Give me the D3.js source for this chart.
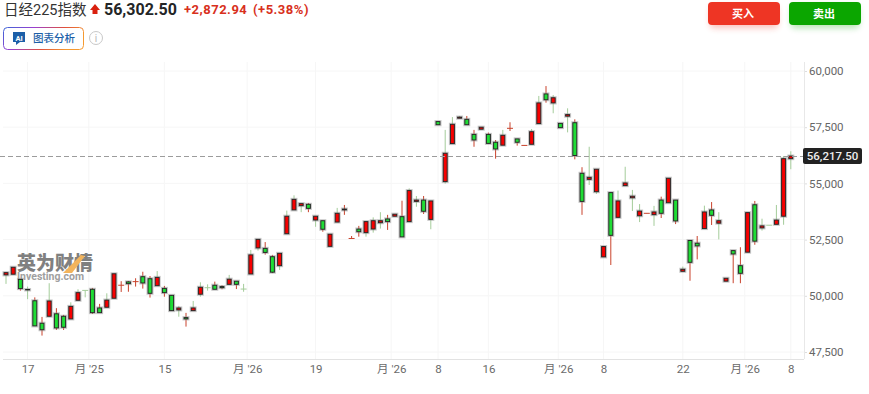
<!DOCTYPE html>
<html>
<head>
<meta charset="utf-8">
<script src="https://cdn.jsdelivr.net/npm/d3@7"></script>
<style>
  html, body { margin: 0; padding: 0; background: #fff; overflow: hidden; }
  svg { display: block; font-family: Roboto, "Noto Sans CJK SC", sans-serif; }
  text { font-family: Roboto, "Noto Sans CJK SC", sans-serif; }
</style>
</head>
<body>
<div id="chart"></div>
<script>
const opens = [
  50930,50960,50730,50260,49780,48780,49090,49200,49090,48970,
  49800,50230,50290,49460,49490,49890,50480,50620,50640,50850,
  50760,50450,50330,50020,49370,49030,49340,50070,50350,50470,
  50410,50510,50650,50290,50970,52130,52110,51740,51340,52760,
  53820,54010,54070,53370,53340,52200,53280,53860,52560,52970,
  52810,52970,53250,53420,53540,53520,53300,54200,54260,53400,
  57750,55080,56770,57900,57850,57180,57410,57180,56830,56700,
  57460,56980,56700,56740,57660,58980,58580,57670,57990,57700,
  55450,55180,54630,51730,54590,53490,54900,54360,53560,53680,
  53610,54260,54140,54260,51090,52460,52340,52990,53820,53230,
  50650,52010,51340,51940,54050,53020,53130,53180,53540,56100
];
const closes = [
  51030,51270,50320,50280,48660,48490,49770,48570,48600,49530,
  50140,50240,49250,49250,49810,50980,50470,50540,50630,50570,
  50110,50820,50140,49340,49460,48970,49460,50380,50360,50290,
  50360,50740,50510,50300,51820,52510,51930,51050,51890,53540,
  54290,54100,53890,53540,52960,52740,53670,53820,52550,52850,
  53300,53340,53340,53300,53630,52620,54680,54260,53760,54220,
  57610,56340,57630,57950,57610,56930,57500,56780,56530,57140,
  57450,56830,56690,57300,58580,58720,58810,57480,58060,56240,
  54200,55270,55630,52190,52690,54220,55020,54430,53770,53670,
  53730,53670,55230,53330,51180,51490,52220,53730,53580,53340,
  50780,51860,51000,53700,52430,53110,53140,53370,56100,56217.5
];
const highs = [
  51030,51270,50730,50410,49930,49060,50560,49450,49150,49710,
  50290,50250,50350,49640,50110,50980,50650,50660,50780,51070,
  50880,51100,50440,50020,49550,49240,49770,50600,50510,50630,
  50470,50930,50650,50530,52040,52510,52390,51820,51890,53790,
  54470,54100,54130,53540,53340,52740,53910,54040,52660,53110,
  53300,53490,53720,53600,53630,54230,54780,54440,54440,54220,
  57750,57380,57950,58000,58000,57380,57500,57260,56930,57380,
  57720,56980,56700,57420,58890,59330,58930,57670,58340,57850,
  55720,56630,55630,52190,54590,54680,55740,54710,54080,53680,
  54000,54410,55230,54260,51300,52460,52660,54010,54170,53720,
  50780,52010,52160,53700,54220,53430,53140,54040,56220,56430
];
const lows = [
  50530,50960,50230,49850,48660,48230,49090,48480,48480,48970,
  49800,49930,49190,49250,49490,49890,50170,50180,50410,50320,
  49920,50450,49960,49340,49070,48630,49340,49960,50230,50290,
  50290,50510,50300,50180,50970,52010,51830,51010,51150,52760,
  53820,53720,53720,53070,52850,52200,53280,53600,52550,52630,
  52630,52810,52990,52930,53540,52620,53300,53960,53640,52960,
  57610,54990,56770,57900,57610,56630,57410,56780,56100,56700,
  57330,56680,56690,56740,57660,58590,58120,57480,57270,56070,
  53600,54930,54530,51730,51370,53490,54900,53770,53280,53670,
  53110,53460,54140,53190,51090,50670,51620,52990,53150,52510,
  50650,50560,50560,51940,52270,52900,53130,53180,53160,55630
];
// slots on the candle index where the time labels sit
const xTickSlots = [3, 11.5, 22, 33.5, 43, 53.5, 60, 67, 76.7, 83, 94, 102.6, 109];
const xTickLabels = ["17", "月 '25", "15", "月 '26", "19", "月 '26", "8", "16", "月 '26", "8", "22", "月 '26", "8"];
const yTicks = [47500, 50000, 52500, 55000, 57500, 60000];
const lastPrice = 56217.5;

const width = 869, height = 394;
const axisX = 804, axisY = 359;

const svg = d3.select("#chart").append("svg")
  .attr("width", width).attr("height", height);

const defs = svg.append("defs");
const grad = defs.append("linearGradient").attr("id", "aiBorder")
  .attr("x1", "0%").attr("y1", "0%").attr("x2", "100%").attr("y2", "30%");
grad.append("stop").attr("offset", "0%").attr("stop-color", "#3a66d8");
grad.append("stop").attr("offset", "35%").attr("stop-color", "#9a3fd0");
grad.append("stop").attr("offset", "70%").attr("stop-color", "#e0503c");
grad.append("stop").attr("offset", "100%").attr("stop-color", "#f59a30");

const x = d3.scaleLinear().domain([0, opens.length - 1]).range([6, 790.8]);
const y = d3.scaleLinear().domain([47500, 60000]).range([352, 71]);

// grid
svg.append("g").selectAll("line").data(yTicks).enter().append("line")
  .attr("x1", 3).attr("x2", axisX)
  .attr("y1", d => y(d)).attr("y2", d => y(d))
  .attr("stroke", "#f6f6f6");
svg.append("g").selectAll("line").data(xTickSlots).enter().append("line")
  .attr("x1", d => x(d)).attr("x2", d => x(d))
  .attr("y1", 62).attr("y2", axisY)
  .attr("stroke", "#f6f6f6");

// watermark
const mark = svg.append("g");
mark.append("text").attr("x", 17).attr("y", 270)
  .attr("font-size", 19).attr("font-weight", 900).attr("fill", "#808080")
  .text("英为财情");
mark.append("path").attr("d", "M63 273 L81 255 L85 256 L72 273 Z").attr("fill", "#f2b45c");
mark.append("text").attr("x", 17).attr("y", 280)
  .attr("font-size", 10.5).attr("font-weight", 700).attr("fill", "#a0a0a0")
  .text("Investing.com");

// axes
const xAxis = svg.append("g")
  .attr("transform", `translate(0,${axisY})`)
  .call(d3.axisBottom(x).tickValues(xTickSlots).tickSize(0).tickPadding(6)
    .tickFormat((d, i) => xTickLabels[i]));
xAxis.select(".domain").remove();
xAxis.selectAll("text").attr("font-size", 11.5).attr("fill", "#6a6a6a");
svg.append("line").attr("x1", 3).attr("x2", axisX).attr("y1", axisY + 0.5).attr("y2", axisY + 0.5)
  .attr("stroke", "#e2e2e2");

const yAxis = svg.append("g")
  .attr("transform", `translate(${axisX},0)`)
  .call(d3.axisRight(y).tickValues(yTicks).tickSize(3).tickPadding(2).tickFormat(d3.format(",")));
yAxis.select(".domain").remove();
yAxis.selectAll("line").attr("stroke", "#dddddd");
yAxis.selectAll("text").attr("font-size", 11.5).attr("fill", "#666");
svg.append("line").attr("x1", axisX + 0.5).attr("x2", axisX + 0.5).attr("y1", 62).attr("y2", axisY)
  .attr("stroke", "#e8e8e8");

// candles: red is up here, wick takes the opposite colour
const idx = d3.range(opens.length);
const isUp = i => closes[i] >= opens[i];
const isFlat = i => Math.abs(closes[i] - opens[i]) < 15;
const wickColor = i => isUp(i) ? "#a4cc9a" : "#c9432c";
const bodyW = 4;

const candles = svg.append("g");
candles.selectAll(".wick").data(idx).enter().append("line")
  .attr("class", "wick")
  .attr("x1", i => x(i)).attr("x2", i => x(i))
  .attr("y1", i => y(highs[i])).attr("y2", i => y(lows[i]))
  .attr("stroke", wickColor);
candles.selectAll(".tick-flat").data(idx.filter(isFlat)).enter().append("line")
  .attr("class", "tick-flat")
  .attr("x1", i => x(i) - 3).attr("x2", i => x(i) + 3)
  .attr("y1", i => y(closes[i])).attr("y2", i => y(closes[i]))
  .attr("stroke", wickColor);
const solid = idx.filter(i => !isFlat(i));
candles.selectAll(".halo").data(solid).enter().append("rect")
  .attr("class", "halo")
  .attr("x", i => x(i) - bodyW / 2 - 1)
  .attr("width", bodyW + 2)
  .attr("y", i => y(Math.max(opens[i], closes[i])) - 1)
  .attr("height", i => Math.abs(y(opens[i]) - y(closes[i])) + 2)
  .attr("fill", "none").attr("stroke", "#999").attr("stroke-opacity", 0.55);
candles.selectAll(".body").data(solid).enter().append("rect")
  .attr("class", "body")
  .attr("x", i => x(i) - bodyW / 2)
  .attr("width", bodyW)
  .attr("y", i => y(Math.max(opens[i], closes[i])))
  .attr("height", i => Math.abs(y(opens[i]) - y(closes[i])))
  .attr("fill", i => isUp(i) ? "#f60000" : "#1fdc35")
  .attr("stroke", "#262626");

// last price
const lastY = Math.round(y(lastPrice)) + 0.5;
svg.append("line").attr("x1", 0).attr("x2", axisX)
  .attr("y1", lastY).attr("y2", lastY)
  .attr("stroke", "#9c9c9c").attr("stroke-dasharray", "5,3");
svg.append("rect").attr("x", 803).attr("y", y(lastPrice) - 8).attr("width", 59).attr("height", 16)
  .attr("rx", 2).attr("fill", "#222");
svg.append("text").attr("x", 832.5).attr("y", y(lastPrice) + 4)
  .attr("text-anchor", "middle").attr("font-size", 11.5).attr("font-weight", 500)
  .attr("fill", "#eee").text(d3.format(",.2f")(lastPrice));

// header
svg.append("text").attr("x", 4).attr("y", 15).attr("font-size", 14.5).attr("fill", "#333").text("日经225指数");
svg.append("path").attr("d", "M95 4 L100 10 L97.5 10 L97.5 14 L92.5 14 L92.5 10 L90 10 Z").attr("fill", "#d9200f");
svg.append("text").attr("x", 104).attr("y", 15).attr("font-size", 16).attr("font-weight", 700)
  .attr("fill", "#232526").text("56,302.50");
svg.append("text").attr("x", 184).attr("y", 14).attr("font-size", 13).attr("font-weight", 700)
  .attr("letter-spacing", 0.5).attr("fill", "#d8301c").text("+2,872.94");
svg.append("text").attr("x", 253).attr("y", 14).attr("font-size", 13).attr("font-weight", 700)
  .attr("letter-spacing", 0.5).attr("fill", "#d8301c").text("(+5.38%)");

svg.append("rect").attr("x", 3.5).attr("y", 27.5).attr("width", 80).attr("height", 22).attr("rx", 4)
  .attr("fill", "#fff").attr("stroke", "url(#aiBorder)");
svg.append("path").attr("d", "M13 32 H25 V42 H20 L16 45 V42 H13 Z").attr("fill", "#1c5fa8");
svg.append("text").attr("x", 19).attr("y", 40.5).attr("text-anchor", "middle").attr("font-size", 7.5)
  .attr("font-weight", 700).attr("fill", "#fff").text("AI");
svg.append("text").attr("x", 33).attr("y", 42).attr("font-size", 10.5).attr("font-weight", 500)
  .attr("fill", "#1c5fa8").text("图表分析");
svg.append("circle").attr("cx", 96).attr("cy", 38).attr("r", 6.5).attr("fill", "none").attr("stroke", "#c8c8c8");
svg.append("text").attr("x", 96).attr("y", 41.5).attr("text-anchor", "middle").attr("font-size", 10)
  .attr("fill", "#b8b8b8").text("i");

// buy / sell buttons
const glow = defs.append("filter").attr("id", "glow").attr("x", "-20%").attr("y", "-30%").attr("width", "140%").attr("height", "180%");
glow.append("feGaussianBlur").attr("stdDeviation", 3);
[[708, "#ee3524", "买入"], [789, "#0ba600", "卖出"]].forEach(([bx, col, label]) => {
  svg.append("rect").attr("x", bx + 2).attr("y", 6).attr("width", 68).attr("height", 22).attr("rx", 4)
    .attr("fill", col).attr("opacity", 0.3).attr("filter", "url(#glow)");
  svg.append("rect").attr("x", bx).attr("y", 2).attr("width", 72).attr("height", 23).attr("rx", 4).attr("fill", col);
  svg.append("text").attr("x", bx + 35).attr("y", 18).attr("text-anchor", "middle")
    .attr("font-size", 11).attr("font-weight", 700).attr("fill", "#fff").text(label);
});
</script>
</body>
</html>
